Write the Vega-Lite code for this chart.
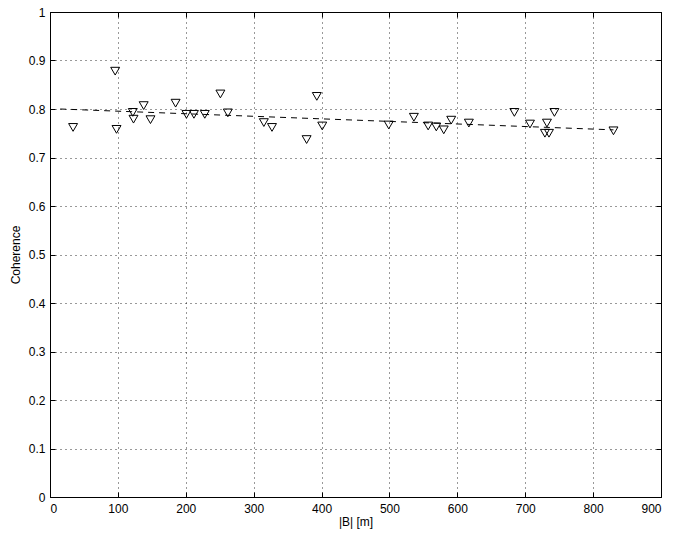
{
  "$schema": "https://vega.github.io/schema/vega-lite/v6.json",
  "width": 611,
  "height": 485,
  "autosize": "none",
  "padding": {"left": 50, "top": 12, "right": 12, "bottom": 36},
  "background": "white",
  "config": {
    "view": {"stroke": "black", "strokeWidth": 1},
    "font": "Liberation Sans",
    "axis": {
      "domain": false,
      "tickColor": "black",
      "tickSize": -5,
      "labelColor": "black",
      "labelFontSize": 12,
      "labelFont": "Liberation Sans",
      "titleFont": "Liberation Sans",
      "titleFontSize": 12,
      "titleFontWeight": "normal",
      "titleColor": "black",
      "gridColor": "black",
      "gridDash": [1, 4],
      "gridOpacity": 0.8,
      "gridWidth": 1
    }
  },
  "datasets": {
    "pts": [
      {"b": 34, "coh": 0.762},
      {"b": 96, "coh": 0.878},
      {"b": 98, "coh": 0.758},
      {"b": 122, "coh": 0.793},
      {"b": 123, "coh": 0.779},
      {"b": 138, "coh": 0.807},
      {"b": 148, "coh": 0.778},
      {"b": 185, "coh": 0.812},
      {"b": 201, "coh": 0.789},
      {"b": 212, "coh": 0.789},
      {"b": 228, "coh": 0.789},
      {"b": 251, "coh": 0.831},
      {"b": 262, "coh": 0.792},
      {"b": 315, "coh": 0.772},
      {"b": 327, "coh": 0.762},
      {"b": 378, "coh": 0.737},
      {"b": 393, "coh": 0.826},
      {"b": 401, "coh": 0.765},
      {"b": 499, "coh": 0.767},
      {"b": 536, "coh": 0.783},
      {"b": 557, "coh": 0.765},
      {"b": 569, "coh": 0.763},
      {"b": 580, "coh": 0.757},
      {"b": 591, "coh": 0.777},
      {"b": 617, "coh": 0.771},
      {"b": 684, "coh": 0.793},
      {"b": 707, "coh": 0.769},
      {"b": 729, "coh": 0.750},
      {"b": 735, "coh": 0.750},
      {"b": 732, "coh": 0.771},
      {"b": 743, "coh": 0.793},
      {"b": 830, "coh": 0.755}
    ],
    "fit": [
      {"b": 15, "coh": 0.800},
      {"b": 830, "coh": 0.757}
    ]
  },
  "layer": [
    {
      "data": {"name": "fit"},
      "mark": {"type": "line", "color": "black", "strokeWidth": 1, "strokeDash": [6, 5]},
      "encoding": {
        "x": {"field": "b", "type": "quantitative", "scale": {"domain": [0, 900], "nice": false},
          "axis": {"orient": "top", "labels": false, "title": null, "grid": false, "values": [0,100,200,300,400,500,600,700,800,900]}},
        "y": {"field": "coh", "type": "quantitative", "scale": {"domain": [0, 1], "nice": false, "zero": false},
          "axis": {"orient": "right", "labels": false, "title": null, "grid": false, "values": [0,0.1,0.2,0.3,0.4,0.5,0.6,0.7,0.8,0.9,1]}}
      }
    },
    {
      "data": {"name": "pts"},
      "mark": {"type": "point", "shape": "triangle-down", "filled": false, "color": "black", "strokeWidth": 1, "size": 80, "opacity": 1},
      "encoding": {
        "x": {"field": "b", "type": "quantitative", "scale": {"domain": [0, 900], "nice": false},
          "axis": {"orient": "bottom", "grid": true, "title": "|B| [m]", "titlePadding": 2, "labelPadding": 11, "values": [0,100,200,300,400,500,600,700,800,900]}},
        "y": {"field": "coh", "type": "quantitative", "scale": {"domain": [0, 1], "nice": false, "zero": false},
          "axis": {"orient": "left", "grid": true, "title": "Coherence", "titlePadding": 6, "labelPadding": 10, "values": [0,0.1,0.2,0.3,0.4,0.5,0.6,0.7,0.8,0.9,1], "labelExpr": "datum.value == 0 ? '0' : datum.value == 1 ? '1' : format(datum.value, '.1f')"}}
      }
    }
  ],
  "resolve": {"axis": {"x": "independent", "y": "independent"}}
}
